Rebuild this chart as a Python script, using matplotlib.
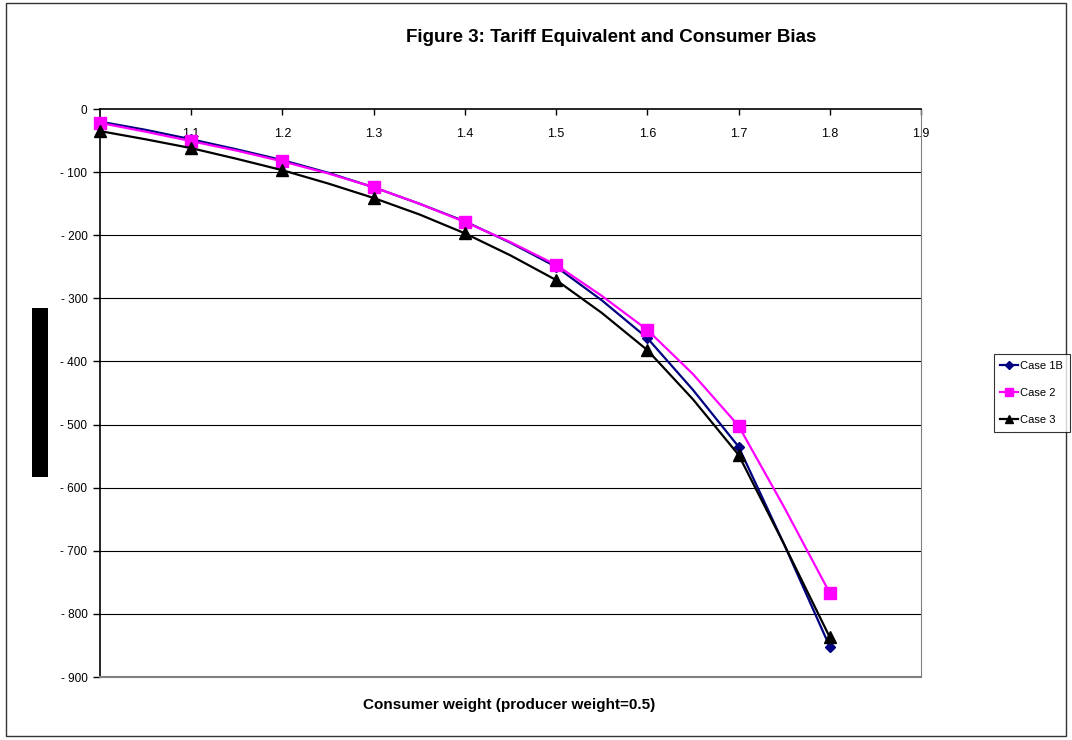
import numpy as np
import matplotlib
matplotlib.use("Agg")
import matplotlib.pyplot as plt
from matplotlib.patches import Rectangle
from matplotlib.ticker import FuncFormatter

plt.rcParams['font.family'] = ['Liberation Sans', 'DejaVu Sans']

# consumer weight, line vertices every 0.05, markers every 0.1
weight = [1.0, 1.05, 1.1, 1.15, 1.2, 1.25, 1.3, 1.35, 1.4, 1.45,
          1.5, 1.55, 1.6, 1.65, 1.7, 1.75, 1.8]
case_1b = [-20, -33, -48, -64, -81, -101, -124, -150, -178, -212,
           -250, -303, -363, -445, -535, -690, -852]
case_2 = [-22, -36, -51, -66, -83, -102, -124, -150, -179, -211,
          -247, -296, -350, -420, -502, -631, -767]
case_3 = [-35, -48, -62, -79, -97, -118, -141, -167, -197, -232,
          -271, -323, -382, -460, -548, -690, -837]

x_ticks = [1.1, 1.2, 1.3, 1.4, 1.5, 1.6, 1.7, 1.8, 1.9]
y_ticks = [0, -100, -200, -300, -400, -500, -600, -700, -800, -900]

fig = plt.figure(figsize=(10.72, 7.4), dpi=100)
ax = fig.add_axes([100 / 1072, 1 - 677 / 740, 821 / 1072, 568 / 740])

for yv in y_ticks[1:-1]:
    ax.axhline(yv, color='black', linewidth=0.8, zorder=1)

ax.plot(weight, case_1b, color='#000080', linewidth=1.6, marker='D',
        markersize=5.5, markevery=2, label='Case 1B', clip_on=False, zorder=3)
ax.plot(weight, case_2, color='#FF00FF', linewidth=1.6, marker='s',
        markersize=8, markevery=2, label='Case 2', clip_on=False, zorder=4)
ax.plot(weight, case_3, color='black', linewidth=1.6, marker='^',
        markersize=9, markevery=2, label='Case 3', clip_on=False, zorder=5)

ax.set_xlim(1.0, 1.9)
ax.set_ylim(-900, 0)
ax.set_yticks(y_ticks)
ax.yaxis.set_major_formatter(FuncFormatter(
    lambda v, p: "0" if v == 0 else "- %d" % abs(v)))
ax.tick_params(axis='y', direction='out', length=5, width=1,
               labelsize=8.5, pad=4)

ax.set_xticks(x_ticks)
ax.set_xticklabels([f"{t:.1f}" for t in x_ticks])
ax.tick_params(axis='x', top=True, bottom=False, labeltop=True,
               labelbottom=False, direction='in', length=4, width=1,
               labelsize=9, pad=-22)

ax.spines['left'].set_color('black')
ax.spines['top'].set_color('black')
ax.spines['left'].set_linewidth(1.2)
ax.spines['top'].set_linewidth(1.2)
ax.spines['right'].set_color('#808080')
ax.spines['bottom'].set_color('#808080')
ax.spines['bottom'].set_linewidth(1.5)

fig.text(611 / 1072, 1 - 37 / 740, "Figure 3: Tariff Equivalent and Consumer Bias",
         ha='center', va='center', fontsize=13.5, fontweight='bold')
fig.text(509 / 1072, 1 - 705 / 740, "Consumer weight (producer weight=0.5)",
         ha='center', va='center', fontsize=11, fontweight='bold')

# blacked-out y axis title
fig.patches.append(Rectangle((32 / 1072, 1 - 477 / 740), 16 / 1072, 169 / 740,
                             transform=fig.transFigure, facecolor='black',
                             edgecolor='none'))
# chart border
fig.patches.append(Rectangle((6 / 1072, 1 - 736 / 740), 1060 / 1072, 733 / 740,
                             transform=fig.transFigure, facecolor='none',
                             edgecolor='#333333', linewidth=1))

leg = fig.legend(loc='upper right', bbox_to_anchor=(1070 / 1072, 1 - 354 / 740),
                 fontsize=8, frameon=True, fancybox=False, handlelength=1.6,
                 borderaxespad=0, labelspacing=1.55, handletextpad=0.2,
                 borderpad=0.6, markerscale=0.7)
leg.get_frame().set_edgecolor('black')
leg.get_frame().set_linewidth(0.8)

fig.savefig("out.png", dpi=100)
